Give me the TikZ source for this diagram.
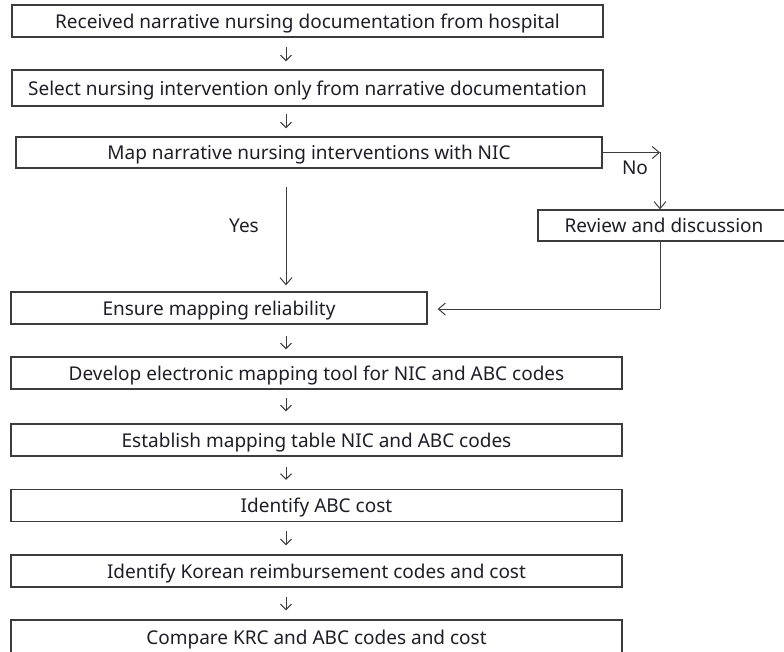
\documentclass[tikz,border=0pt]{standalone}
\usepackage{fontspec}
\setmainfont{Noto Sans}
\usetikzlibrary{arrows.meta}
\definecolor{boxline}{HTML}{3C3C3C}
\definecolor{txt}{HTML}{1E1E28}
\begin{document}
\begin{tikzpicture}[x=1pt,y=-1pt,
  box/.style={draw=boxline, line width=1.3pt, fill=white, inner sep=0pt,
    text=txt, font=\fontsize{19pt}{21pt}\selectfont, anchor=center,
    text height=14.5pt, text depth=0pt},
  stepar/.style={draw=boxline, line width=1pt,
    -{Straight Barb[length=5.5pt,width=11pt,line width=1pt]}},
  flowar/.style={draw=boxline, line width=1pt,
    -{Straight Barb[length=7pt,width=12pt,line width=1pt]}},
  flowln/.style={draw=boxline, line width=1pt},
  lbl/.style={text=txt, font=\fontsize{19pt}{21pt}\selectfont, inner sep=0pt}
]
\useasboundingbox (0,0) rectangle (784,652);

\node[box, minimum width=591pt, minimum height=32pt] (b1) at (307.5,21)
  {Received narrative nursing documentation from hospital};
\node[box, minimum width=591pt, minimum height=36pt] (b2) at (307.5,88)
  {Select nursing intervention only from narrative documentation};
\node[box, minimum width=586pt, minimum height=31pt] (b3) at (309,152.5)
  {Map narrative nursing interventions with NIC};
\node[box, minimum width=252pt, minimum height=31pt] (rv) at (664,225.5)
  {Review and discussion};
\node[box, minimum width=416pt, minimum height=32pt] (b4) at (219,308)
  {Ensure mapping reliability};
\node[box, minimum width=611pt, minimum height=32pt] (b5) at (316.5,373)
  {Develop electronic mapping tool for NIC and ABC codes};
\node[box, minimum width=611pt, minimum height=32pt] (b6) at (316.5,440)
  {Establish mapping table NIC and ABC codes};
\node[box, minimum width=611pt, minimum height=32pt] (b7) at (316.5,505.5)
  {Identify ABC cost};
\node[box, minimum width=611pt, minimum height=32pt] (b8) at (316.5,571)
  {Identify Korean reimbursement codes and cost};
\node[box, minimum width=611pt, minimum height=40pt] (b9) at (316.5,640)
  {\raisebox{3pt}{Compare KRC and ABC codes and cost}};

\coordinate (ax) at (286,0);
\coordinate (nc) at (660,152.5);
\coordinate (rc) at (660,309);

\draw[stepar, shorten <=9pt, shorten >=8pt] (b1.south -| ax) -- (b2.north -| ax);
\draw[stepar, shorten <=7pt, shorten >=8pt] (b2.south -| ax) -- (b3.north -| ax);
\draw[stepar, shorten <=11pt, shorten >=7pt] (b4.south -| ax) -- (b5.north -| ax);
\draw[stepar, shorten <=8pt, shorten >=12pt] (b5.south -| ax) -- (b6.north -| ax);
\draw[stepar, shorten <=10pt, shorten >=9pt] (b6.south -| ax) -- (b7.north -| ax);
\draw[stepar, shorten <=9pt, shorten >=9pt] (b7.south -| ax) -- (b8.north -| ax);
\draw[stepar, shorten <=9pt, shorten >=9pt] (b8.south -| ax) -- (b9.north -| ax);

\draw[flowar, shorten <=18pt, shorten >=6pt] (b3.south -| ax) -- (b4.north -| ax);
\node[lbl] (yes) at (244,226) {Yes};

\draw[flowar] (b3.east) -- (nc);
\draw[flowar] (nc) -- (rv.north -| nc);
\node[lbl] (no) at (635,168) {No};

\draw[flowln] (rv.south -| nc) -- (rc);
\draw[flowar, shorten >=10pt] (rc) -- (b4.east |- rc);
\end{tikzpicture}
\end{document}
